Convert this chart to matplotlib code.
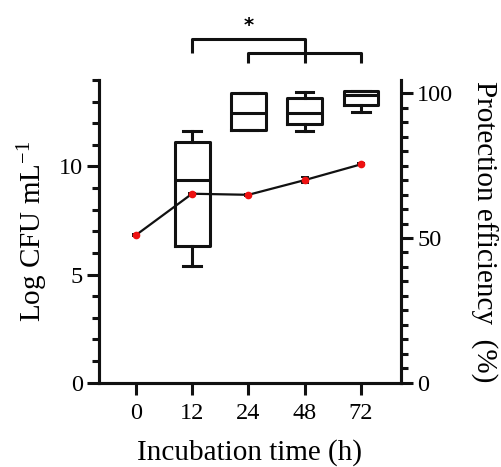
import numpy as np
import matplotlib
matplotlib.use('Agg')
from matplotlib import pyplot as plt
from matplotlib.ticker import MultipleLocator

plt.rcParams['font.family'] = 'Liberation Serif'
plt.rcParams['mathtext.fontset'] = 'custom'
plt.rcParams['mathtext.rm'] = 'Liberation Serif'
plt.rcParams['mathtext.it'] = 'Liberation Serif:italic'

# incubation time categories
times = ['0', '12', '24', '48', '72']

# Log CFU mL-1 (left axis), mean and error
log_cfu = [6.82, 8.74, 8.69, 9.37, 10.10]
log_cfu_err = [0.05, 0.05, 0.05, 0.15, 0.05]

# protection efficiency (%) boxes, right axis (no box at 0 h)
box_times = ['12', '24', '48', '72']
pe_whislo = [40.4, 87.3, 87.1, 93.6]
pe_q1 = [47.3, 87.3, 89.3, 96.0]
pe_med = [70.0, 93.1, 93.1, 99.5]
pe_q3 = [83.3, 100.0, 98.3, 100.8]
pe_whishi = [87.0, 100.0, 100.3, 100.8]

LW = 2.2
BLACK = '#111111'

fig = plt.figure(figsize=(5.01, 4.67), dpi=100)
ax = fig.add_axes([0.1976, 0.1805, 0.6028, 0.6482])
ax2 = ax.twinx()

x = np.arange(len(times))
pos = {t: i for i, t in enumerate(times)}

ax.errorbar(x, log_cfu, yerr=log_cfu_err, color=BLACK, lw=1.6,
            ecolor=BLACK, elinewidth=1.4, capsize=3, capthick=1.4,
            marker='o', ms=4.5, mfc='#ee1111', mec='#ee1111', zorder=3)

stats = []
for i, t in enumerate(box_times):
    stats.append(dict(med=pe_med[i], q1=pe_q1[i], q3=pe_q3[i],
                      whislo=pe_whislo[i], whishi=pe_whishi[i], fliers=[]))
ax2.bxp(stats, positions=[pos[t] for t in box_times], widths=0.62,
        showfliers=False, manage_ticks=False,
        boxprops=dict(color=BLACK, lw=LW),
        medianprops=dict(color=BLACK, lw=LW),
        whiskerprops=dict(color=BLACK, lw=LW),
        capprops=dict(color=BLACK, lw=LW),
        capwidths=0.31)

ax.set_xlim(-0.652, 4.71)
ax.set_ylim(0, 14)
ax2.set_ylim(0, 104.6)
ax.set_xticks(x)
ax.set_xticklabels(times)

ax.yaxis.set_major_locator(MultipleLocator(5))
ax.yaxis.set_minor_locator(MultipleLocator(1))
ax2.yaxis.set_major_locator(MultipleLocator(50))
ax2.yaxis.set_minor_locator(MultipleLocator(5))

for a in (ax, ax2):
    a.spines['top'].set_visible(False)
    for s in ('left', 'right', 'bottom'):
        a.spines[s].set_linewidth(LW)
        a.spines[s].set_color(BLACK)
    a.tick_params(which='major', direction='out', length=8.6, width=LW,
                  color=BLACK, labelsize=17.5, pad=3)
    a.tick_params(which='minor', direction='out', length=5, width=LW,
                  color=BLACK)
ax.tick_params(axis='x', pad=6)

ax.set_xlabel('Incubation time (h)', fontsize=21, labelpad=11)
ax.set_ylabel(r'Log CFU mL$^{-1}$', fontsize=21, labelpad=6)
ax2.set_ylabel('Protection efficiency  (%)', fontsize=21, rotation=270,
               labelpad=32)

# significance brackets (right-axis units)
bk = dict(color=BLACK, lw=LW, clip_on=False, solid_capstyle='butt')
ax2.plot([pos['12'], pos['12'], pos['48'], pos['48']],
         [113.8, 118.7, 118.7, 110.6], **bk)
ax2.plot([pos['24'], pos['24'], pos['72'], pos['72']],
         [110.6, 113.8, 113.8, 110.6], **bk)
ax2.text((pos['12'] + pos['48']) / 2, 123.6, '*', ha='center', va='center',
         fontsize=14, fontweight='bold', family='DejaVu Sans', clip_on=False)

fig.savefig('out.png', dpi=100)
